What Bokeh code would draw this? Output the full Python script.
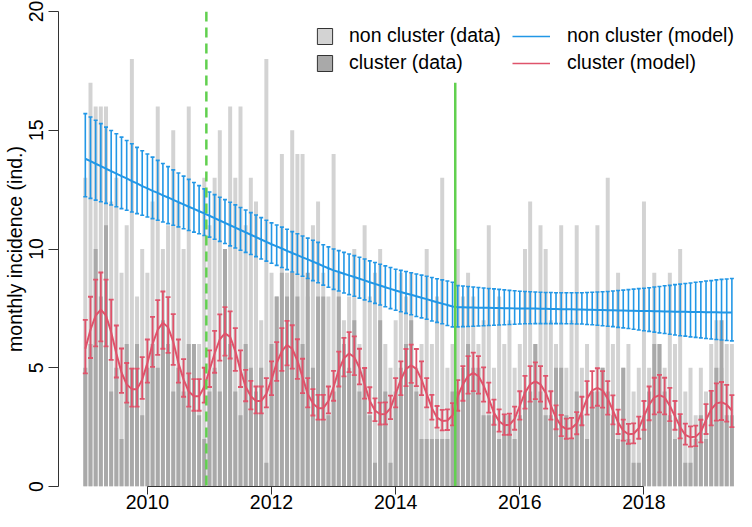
import pandas as pd
from bokeh.plotting import figure
from bokeh.models import ColumnDataSource, Range1d, FixedTicker, Legend, LegendItem, Span
from bokeh.embed import file_html
from bokeh.resources import INLINE

# ---------------- data ----------------
months = pd.date_range("2009-01-01", periods=126, freq="MS")
t = list(months.year + (months.month - 1) / 12.0)

non_cluster_data = [
    13, 17, 16, 16, 16, 12, 13, 9, 11, 18, 8, 10,
    9, 12, 16, 10, 11, 15, 12, 10, 16, 6, 6, 13,
    11, 13, 15, 10, 16, 13, 16, 11, 13, 12, 7, 18,
    9, 8, 14, 9, 15, 14, 14, 8, 11, 12, 9, 8,
    14, 9, 7, 8, 10, 6, 11, 8, 9, 10, 6, 5,
    7, 9, 8, 9, 5, 6, 10, 6, 8, 13, 5, 6,
    10, 8, 9, 8, 6, 7, 11, 5, 8, 6, 7, 5,
    6, 10, 12, 6, 11, 10, 7, 6, 11, 5, 7, 11,
    5, 6, 4, 11, 5, 13, 6, 9, 5, 6, 4, 5,
    12, 5, 9, 6, 5, 9, 6, 10, 4, 5, 3, 5,
    4, 6, 7, 5, 6, 6]

cluster_data = [
    5, 6, 10, 8, 11, 4, 5, 2, 6, 5, 6, 3,
    5, 6, 5, 7, 6, 4, 5, 4, 6, 6, 3, 2,
    4, 5, 4, 10, 6, 4, 3, 6, 5, 4, 5, 1,
    6, 8, 9, 8, 9, 8, 6, 9, 5, 8, 8, 3,
    4, 8, 6, 5, 7, 4, 5, 3, 1, 7, 4, 1,
    4, 5, 6, 7, 4, 2, 2, 2, 2, 2, 2, 4,
    4, 5, 6, 5, 5, 3, 3, 3, 2, 3, 3, 2,
    3, 4, 4, 6, 4, 3, 3, 5, 5, 3, 2, 4,
    3, 2, 4, 4, 5, 4, 3, 2, 5, 2, 1, 1,
    3, 4, 6, 6, 4, 3, 2, 3, 1, 1, 2, 3,
    2, 4, 5, 7, 3, 3]

non_cluster_model = [
    13.80, 13.70, 13.59, 13.49, 13.38, 13.28, 13.17, 13.07, 12.97, 12.86, 12.76, 12.65,
    12.55, 12.45, 12.36, 12.26, 12.17, 12.07, 11.97, 11.88, 11.78, 11.69, 11.59, 11.50,
    11.40, 11.30, 11.20, 11.10, 11.00, 10.90, 10.80, 10.70, 10.60, 10.50, 10.40, 10.30,
    10.20, 10.11, 10.02, 9.92, 9.83, 9.74, 9.65, 9.56, 9.47, 9.38, 9.28, 9.19,
    9.10, 9.03, 8.96, 8.89, 8.82, 8.75, 8.68, 8.60, 8.53, 8.46, 8.39, 8.32,
    8.25, 8.19, 8.13, 8.07, 8.01, 7.95, 7.89, 7.82, 7.76, 7.70, 7.64, 7.58,
    7.55, 7.55, 7.54, 7.54, 7.53, 7.53, 7.53, 7.52, 7.52, 7.51, 7.51, 7.50,
    7.50, 7.50, 7.49, 7.49, 7.48, 7.48, 7.47, 7.47, 7.46, 7.46, 7.46, 7.45,
    7.45, 7.44, 7.44, 7.43, 7.43, 7.42, 7.42, 7.41, 7.41, 7.40, 7.40, 7.39,
    7.39, 7.39, 7.38, 7.38, 7.37, 7.37, 7.36, 7.36, 7.36, 7.35, 7.35, 7.35,
    7.34, 7.34, 7.34, 7.33, 7.33, 7.33]

non_cluster_upper = [
    15.70, 15.56, 15.42, 15.28, 15.13, 14.99, 14.85, 14.71, 14.57, 14.43, 14.28, 14.14,
    14.00, 13.87, 13.73, 13.60, 13.47, 13.33, 13.20, 13.07, 12.93, 12.80, 12.67, 12.53,
    12.40, 12.29, 12.18, 12.08, 11.97, 11.86, 11.75, 11.64, 11.53, 11.43, 11.32, 11.21,
    11.10, 11.01, 10.92, 10.83, 10.73, 10.64, 10.55, 10.46, 10.37, 10.28, 10.18, 10.09,
    10.00, 9.93, 9.86, 9.79, 9.72, 9.65, 9.58, 9.50, 9.43, 9.36, 9.29, 9.22,
    9.15, 9.10, 9.05, 9.00, 8.95, 8.90, 8.85, 8.80, 8.75, 8.70, 8.65, 8.60,
    8.46, 8.44, 8.42, 8.40, 8.38, 8.36, 8.34, 8.32, 8.30, 8.28, 8.26, 8.24,
    8.22, 8.21, 8.20, 8.19, 8.18, 8.17, 8.17, 8.16, 8.16, 8.16, 8.16, 8.16,
    8.16, 8.17, 8.18, 8.19, 8.20, 8.21, 8.23, 8.25, 8.27, 8.29, 8.31, 8.33,
    8.35, 8.37, 8.40, 8.42, 8.45, 8.47, 8.50, 8.52, 8.55, 8.57, 8.60, 8.62,
    8.65, 8.67, 8.70, 8.72, 8.74, 8.76]

non_cluster_lower = [
    12.20, 12.13, 12.06, 11.99, 11.92, 11.85, 11.78, 11.70, 11.63, 11.56, 11.49, 11.42,
    11.35, 11.28, 11.21, 11.14, 11.07, 11.00, 10.93, 10.85, 10.78, 10.71, 10.64, 10.57,
    10.50, 10.41, 10.32, 10.23, 10.13, 10.04, 9.95, 9.86, 9.77, 9.68, 9.58, 9.49,
    9.40, 9.31, 9.22, 9.13, 9.03, 8.94, 8.85, 8.76, 8.67, 8.58, 8.48, 8.39,
    8.30, 8.23, 8.15, 8.08, 8.01, 7.93, 7.86, 7.79, 7.71, 7.64, 7.57, 7.49,
    7.42, 7.36, 7.29, 7.23, 7.16, 7.10, 7.04, 6.97, 6.91, 6.85, 6.78, 6.72,
    6.72, 6.73, 6.74, 6.75, 6.76, 6.77, 6.78, 6.79, 6.80, 6.81, 6.82, 6.83,
    6.84, 6.85, 6.85, 6.86, 6.86, 6.86, 6.86, 6.86, 6.86, 6.85, 6.85, 6.84,
    6.84, 6.82, 6.81, 6.79, 6.77, 6.75, 6.73, 6.70, 6.68, 6.65, 6.62, 6.59,
    6.56, 6.53, 6.50, 6.47, 6.44, 6.41, 6.38, 6.35, 6.33, 6.30, 6.28, 6.26,
    6.23, 6.21, 6.19, 6.17, 6.15, 6.13]

cluster_model = [
    5.80, 6.60, 7.20, 7.45, 7.20, 6.50, 5.60, 4.80, 4.30, 4.10, 4.10, 4.50,
    5.20, 6.00, 6.60, 6.90, 6.70, 6.10, 5.20, 4.50, 4.00, 3.80, 3.80, 4.20,
    4.90, 5.60, 6.20, 6.45, 6.30, 5.70, 4.90, 4.20, 3.80, 3.60, 3.60, 3.90,
    4.50, 5.20, 5.70, 5.96, 5.80, 5.30, 4.60, 3.90, 3.50, 3.30, 3.30, 3.60,
    4.20, 4.90, 5.40, 5.60, 5.45, 5.00, 4.30, 3.60, 3.20, 3.04, 3.05, 3.30,
    3.90, 4.50, 4.95, 5.10, 4.95, 4.50, 3.90, 3.30, 2.90, 2.76, 2.78, 3.00,
    3.80, 4.30, 4.65, 4.78, 4.65, 4.25, 3.70, 3.10, 2.75, 2.58, 2.60, 2.85,
    3.40, 3.95, 4.30, 4.43, 4.30, 3.95, 3.40, 2.90, 2.55, 2.42, 2.45, 2.65,
    3.15, 3.70, 4.05, 4.15, 4.05, 3.70, 3.20, 2.70, 2.35, 2.20, 2.22, 2.45,
    2.95, 3.45, 3.75, 3.85, 3.75, 3.40, 2.95, 2.50, 2.17, 2.07, 2.10, 2.30,
    2.80, 3.25, 3.50, 3.55, 3.45, 3.20]

cluster_upper = [
    7.02, 7.99, 8.71, 9.01, 8.71, 7.87, 6.78, 5.81, 5.20, 4.96, 4.96, 5.45,
    6.19, 7.14, 7.85, 8.21, 7.97, 7.26, 6.19, 5.36, 4.76, 4.52, 4.52, 5.00,
    5.73, 6.55, 7.25, 7.55, 7.37, 6.67, 5.73, 4.91, 4.45, 4.21, 4.21, 4.56,
    5.27, 6.08, 6.67, 6.97, 6.79, 6.20, 5.38, 4.56, 4.10, 3.86, 3.86, 4.21,
    4.87, 5.68, 6.26, 6.50, 6.32, 5.80, 4.99, 4.18, 3.71, 3.53, 3.54, 3.83,
    4.56, 5.27, 5.79, 5.97, 5.79, 5.27, 4.56, 3.86, 3.39, 3.23, 3.25, 3.51,
    4.48, 5.07, 5.49, 5.64, 5.49, 5.02, 4.37, 3.66, 3.25, 3.04, 3.07, 3.36,
    4.01, 4.66, 5.07, 5.23, 5.07, 4.66, 4.01, 3.42, 3.01, 2.86, 2.89, 3.13,
    3.78, 4.44, 4.86, 4.98, 4.86, 4.44, 3.84, 3.24, 2.82, 2.64, 2.66, 2.94,
    3.60, 4.21, 4.58, 4.70, 4.58, 4.15, 3.60, 3.05, 2.65, 2.53, 2.56, 2.81,
    3.47, 4.03, 4.34, 4.40, 4.28, 3.85]

cluster_lower = [
    4.76, 5.41, 5.90, 6.11, 5.90, 5.33, 4.59, 3.94, 3.53, 3.36, 3.36, 3.69,
    4.37, 5.04, 5.54, 5.80, 5.63, 5.12, 4.37, 3.78, 3.36, 3.19, 3.19, 3.53,
    4.19, 4.79, 5.30, 5.51, 5.39, 4.87, 4.19, 3.59, 3.25, 3.08, 3.08, 3.33,
    3.85, 4.45, 4.87, 5.10, 4.96, 4.53, 3.93, 3.33, 2.99, 2.82, 2.82, 3.08,
    3.61, 4.21, 4.64, 4.82, 4.69, 4.30, 3.70, 3.10, 2.75, 2.61, 2.62, 2.84,
    3.33, 3.85, 4.23, 4.36, 4.23, 3.85, 3.33, 2.82, 2.48, 2.36, 2.38, 2.57,
    3.19, 3.61, 3.91, 4.02, 3.91, 3.57, 3.11, 2.60, 2.31, 2.17, 2.18, 2.39,
    2.82, 3.28, 3.57, 3.68, 3.57, 3.28, 2.82, 2.41, 2.12, 2.01, 2.03, 2.20,
    2.58, 3.03, 3.32, 3.40, 3.32, 3.03, 2.62, 2.21, 1.93, 1.80, 1.82, 2.01,
    2.39, 2.79, 3.04, 3.12, 3.04, 2.75, 2.39, 2.03, 1.76, 1.68, 1.70, 1.86,
    2.21, 2.57, 2.77, 2.80, 2.73, 2.50]

x_ticks = [2010, 2012, 2014, 2016, 2018]
y_ticks = [0, 5, 10, 15, 20]
dashed_break = 2010.95
solid_break = 2014.96
solid_break_top = 17

# ---------------- styles ----------------
LIGHT = "#D3D3D3"
DARK = "#A9A9A9"
BLUE = "#2297E6"
RED = "#DF536B"
GREEN = "#61D04F"
FONT = "Liberation Sans"
FS = "19.5px"
BAR_W = 0.064
CAP_B = 0.032
CAP_R = 0.04
NAN = float("nan")

src = ColumnDataSource(dict(
    t=t, nc=non_cluster_data, cl=cluster_data,
    ncm=non_cluster_model, ncu=non_cluster_upper, ncl=non_cluster_lower,
    cm=cluster_model, cu=cluster_upper, clo=cluster_lower,
    tbl=[v - CAP_B for v in t], tbr=[v + CAP_B for v in t],
    trl=[v - CAP_R for v in t], trr=[v + CAP_R for v in t],
))

p = figure(width=736, height=511, output_backend="svg", toolbar_location=None,
           x_range=Range1d(2008.568, 2019.491), y_range=Range1d(0, 20),
           min_border_left=57, min_border_right=0, min_border_top=11, min_border_bottom=24)
p.outline_line_color = None
p.grid.visible = False
p.background_fill_color = "white"

# bars
p.vbar(x="t", top="nc", width=BAR_W, bottom=0, source=src, fill_color=LIGHT, line_color=None)
p.vbar(x="t", top="cl", width=BAR_W, bottom=0, source=src, fill_color=DARK, line_color=None)

# non cluster model
p.segment(x0="t", y0="ncl", x1="t", y1="ncu", source=src, line_color=BLUE, line_width=1.6)
p.segment(x0="tbl", y0="ncu", x1="tbr", y1="ncu", source=src, line_color=BLUE, line_width=1.6)
p.segment(x0="tbl", y0="ncl", x1="tbr", y1="ncl", source=src, line_color=BLUE, line_width=1.6)
p.line(x="t", y="ncm", source=src, line_color=BLUE, line_width=2)

# cluster model
p.segment(x0="t", y0="clo", x1="t", y1="cu", source=src, line_color=RED, line_width=1.8)
p.segment(x0="trl", y0="cu", x1="trr", y1="cu", source=src, line_color=RED, line_width=1.8)
p.segment(x0="trl", y0="clo", x1="trr", y1="clo", source=src, line_color=RED, line_width=1.8)
p.line(x="t", y="cm", source=src, line_color=RED, line_width=2)

# break lines
p.add_layout(Span(location=dashed_break, dimension="height", line_color=GREEN,
                  line_width=2.5, line_dash="10 6"))
p.segment(x0=[solid_break], y0=[0], x1=[solid_break], y1=[solid_break_top],
          line_color=GREEN, line_width=2.5)

# axes
p.xaxis.ticker = FixedTicker(ticks=x_ticks)
p.yaxis.ticker = FixedTicker(ticks=y_ticks)
p.xaxis.bounds = (x_ticks[0], x_ticks[-1])
p.yaxis.bounds = (y_ticks[0], y_ticks[-1])
for ax in (p.xaxis, p.yaxis):
    ax.axis_line_color = "#333333"
    ax.major_tick_line_color = "#333333"
    ax.major_tick_in = 0
    ax.minor_tick_line_color = None
    ax.major_label_text_font = FONT
    ax.major_label_text_font_size = FS
    ax.major_label_text_color = "black"
p.xaxis.major_tick_out = 8
p.yaxis.major_tick_out = 10
p.xaxis.major_label_standoff = 0
p.yaxis.major_label_standoff = 6
p.yaxis.major_label_orientation = "vertical"
p.yaxis.axis_label = "monthly incidence (ind.)"
p.yaxis.axis_label_text_font = FONT
p.yaxis.axis_label_text_font_size = FS
p.yaxis.axis_label_text_font_style = "normal"
p.yaxis.axis_label_text_color = "black"
p.yaxis.axis_label_standoff = 0

# legend proxies (NaN values: drawn only inside the legend)
sq_light = p.vbar(x=[t[0]], top=[NAN], width=BAR_W, fill_color=LIGHT, line_color="#333333", line_width=1)
sq_dark = p.vbar(x=[t[0]], top=[NAN], width=BAR_W, fill_color=DARK, line_color="#333333", line_width=1)
ln_blue = p.line(x=[t[0]], y=[NAN], line_color=BLUE, line_width=1.5)
ln_red = p.line(x=[t[0]], y=[NAN], line_color=RED, line_width=1.5)

def make_legend(items, loc, gw, standoff):
    return Legend(items=items, location=loc, orientation="vertical",
                  border_line_color=None, background_fill_alpha=0,
                  padding=0, margin=0, spacing=4,
                  glyph_width=gw, glyph_height=20, label_height=20,
                  label_standoff=standoff,
                  label_text_font=FONT, label_text_font_size=FS, label_text_color="black")

p.add_layout(make_legend([LegendItem(label="non cluster (data)", renderers=[sq_light]),
                          LegendItem(label="cluster (data)", renderers=[sq_dark])],
                         (257, 412), 19, 15), "center")
p.add_layout(make_legend([LegendItem(label="non cluster (model)", renderers=[ln_blue]),
                          LegendItem(label="cluster (model)", renderers=[ln_red])],
                         (454, 412), 38, 17), "center")

open("out.html", "w").write(file_html(p, INLINE))
